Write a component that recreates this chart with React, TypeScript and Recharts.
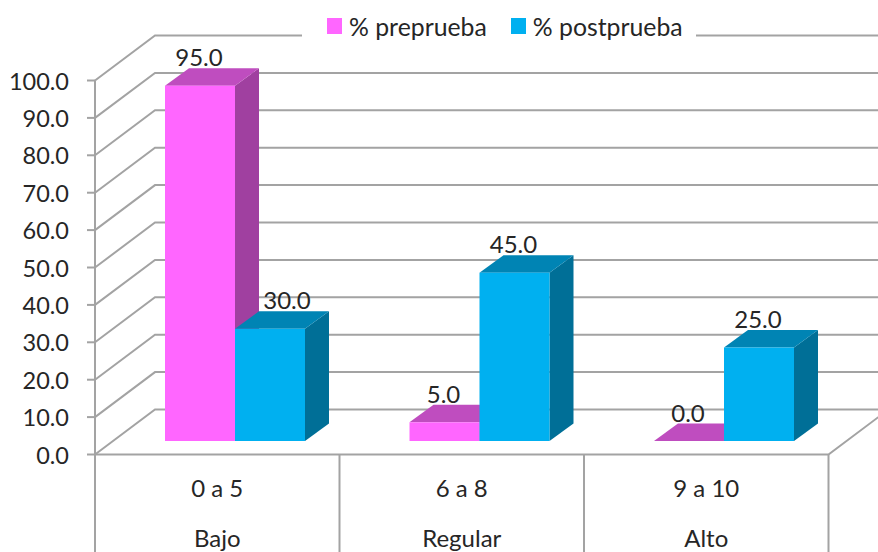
import { BarChart, Bar, CartesianGrid, XAxis, YAxis, Legend, LabelList } from "recharts";

const rangos = ["0 a 5", "6 a 8", "9 a 10"];
const niveles = ["Bajo", "Regular", "Alto"];
const preprueba = [95, 5, 0];
const postprueba = [30, 45, 25];
const yTicks = [0, 10, 20, 30, 40, 50, 60, 70, 80, 90, 100];

const data = rangos.map((rango, i) => ({
  rango,
  nivel: niveles[i],
  pre: preprueba[i],
  post: postprueba[i],
}));

const FONT = "Lato, 'Open Sans', sans-serif";
const TEXT = "#262626";
const GRID = "#a3a3a3";
const PINK = "#FF66FF";
const BLUE = "#00B0F0";
const SHADES: Record<string, { top: string; side: string }> = {
  [PINK]: { top: "#BF4DBF", side: "#A040A0" },
  [BLUE]: { top: "#0084B4", side: "#006F97" },
};

// the bars sit on a plane between the front axes and the back wall
const W = 878;
const H = 552;
const PLOT = { top: 67, right: 31.5, bottom: 111, left: 113 };
const FRONT_DX = -18;
const FRONT_DY = 13.5;
const BACK_DX = 42;
const BACK_DY = -31.5;
const BAR_DX = 24;
const BAR_DY = -17.5;

function Bar3D({ x, y, width, height, fill }: any) {
  const s = SHADES[fill];
  const r = x + width;
  const b = y + height;
  return (
    <g>
      <polygon
        points={`${r},${y} ${r + BAR_DX},${y + BAR_DY} ${r + BAR_DX},${b + BAR_DY} ${r},${b}`}
        fill={s.side}
      />
      <polygon
        points={`${x},${y} ${x + BAR_DX},${y + BAR_DY} ${r + BAR_DX},${y + BAR_DY} ${r},${y}`}
        fill={s.top}
      />
      <rect x={x} y={y} width={width} height={height} fill={fill} />
    </g>
  );
}

function GridLine({ x1, x2, y1, index }: any) {
  const plotBottom = H - PLOT.bottom;
  const isFloor = Math.abs(y1 - plotBottom) < 0.5;
  const isTop = Math.abs(y1 - PLOT.top) < 0.5;
  const fx = x1 + FRONT_DX;
  const fy = y1 + FRONT_DY;
  const props = { stroke: GRID, strokeWidth: 2, fill: "none" };
  return (
    <g key={`grid-${index}`}>
      <polyline
        points={`${fx},${fy} ${x1 + BACK_DX},${y1 + BACK_DY} ${x2 + BACK_DX},${y1 + BACK_DY}`}
        {...props}
      />
      {isFloor && (
        <polyline
          points={`${x1 + FRONT_DX},${fy} ${x2 + FRONT_DX},${fy} ${x2 + BACK_DX},${y1 + BACK_DY}`}
          {...props}
        />
      )}
      {isTop && <line x1={fx} x2={fx} y1={fy} y2={H} {...props} />}
    </g>
  );
}

function ValueTick({ y, payload }: any) {
  const ax = PLOT.left + FRONT_DX;
  const fy = y + FRONT_DY;
  return (
    <g>
      <line x1={ax - 8} x2={ax} y1={fy} y2={fy} stroke={GRID} strokeWidth={2} />
      <text x={ax - 26} y={fy + 9} textAnchor="end" fontFamily={FONT} fontSize={23.5} fill={TEXT}>
        {payload.value.toFixed(1)}
      </text>
    </g>
  );
}

function CategoryTick({ x, payload, index }: any) {
  const band = (W - PLOT.left - PLOT.right) / rangos.length;
  const cx = x + FRONT_DX;
  const top = H - PLOT.bottom + FRONT_DY;
  const common = { textAnchor: "middle" as const, fontFamily: FONT, fontSize: 24, fill: TEXT };
  return (
    <g>
      <line x1={cx + band / 2} x2={cx + band / 2} y1={top} y2={H} stroke={GRID} strokeWidth={2} />
      <text x={cx} y={497} {...common}>{payload.value}</text>
      <text x={cx} y={547} {...common}>{niveles[index]}</text>
    </g>
  );
}

function ValueLabel({ x, y, width, value, index, nudge }: any) {
  const shift = nudge === index ? 18 : 0;
  return (
    <text
      x={x + width / 2 - 1 + shift}
      y={y - 19.5}
      textAnchor="middle"
      fontFamily={FONT}
      fontSize={24}
      fill={TEXT}
    >
      {Number(value).toFixed(1)}
    </text>
  );
}

function LegendBox({ payload }: any) {
  return (
    <div
      style={{
        display: "flex",
        alignItems: "center",
        background: "#fff",
        width: 394,
        height: 30,
        paddingLeft: 25,
        boxSizing: "border-box",
        fontFamily: FONT,
        fontSize: 24.8,
        color: TEXT,
        whiteSpace: "nowrap",
      }}
    >
      {(payload ?? []).map((item: any) => (
        <span key={item.value} style={{ display: "flex", alignItems: "center", marginRight: 24 }}>
          <span style={{ width: 15, height: 16, background: item.color, marginRight: 7 }} />
          {item.value}
        </span>
      ))}
    </div>
  );
}

export default function App() {
  return (
    <div style={{ position: "absolute", left: 0, top: 0, width: W, height: H, background: "#fff" }}>
      <BarChart
        width={W}
        height={H}
        data={data}
        margin={{ ...PLOT, left: PLOT.left - 1, bottom: PLOT.bottom - 1 }}
        barSize={70}
        barGap={0}
      >
        <CartesianGrid vertical={false} horizontal={GridLine as any} />
        <XAxis dataKey="rango" height={1} axisLine={false} tickLine={false} tick={CategoryTick as any} interval={0} />
        <YAxis
          width={1}
          domain={[0, 100]}
          ticks={yTicks}
          axisLine={false}
          tickLine={false}
          tick={ValueTick as any}
          interval={0}
        />
        <Legend
          layout="horizontal"
          verticalAlign="middle"
          align="center"
          itemSorter={null}
          content={LegendBox as any}
          wrapperStyle={{ position: "absolute", left: 302, top: 11, width: 394, height: 30 }}
        />
        <Bar dataKey="pre" name="% preprueba" fill={PINK} shape={Bar3D} isAnimationActive={false}>
          <LabelList dataKey="pre" content={(p: any) => <ValueLabel {...p} nudge={-1} />} />
        </Bar>
        <Bar dataKey="post" name="% postprueba" fill={BLUE} shape={Bar3D} isAnimationActive={false}>
          <LabelList dataKey="post" content={(p: any) => <ValueLabel {...p} nudge={0} />} />
        </Bar>
      </BarChart>
    </div>
  );
}
